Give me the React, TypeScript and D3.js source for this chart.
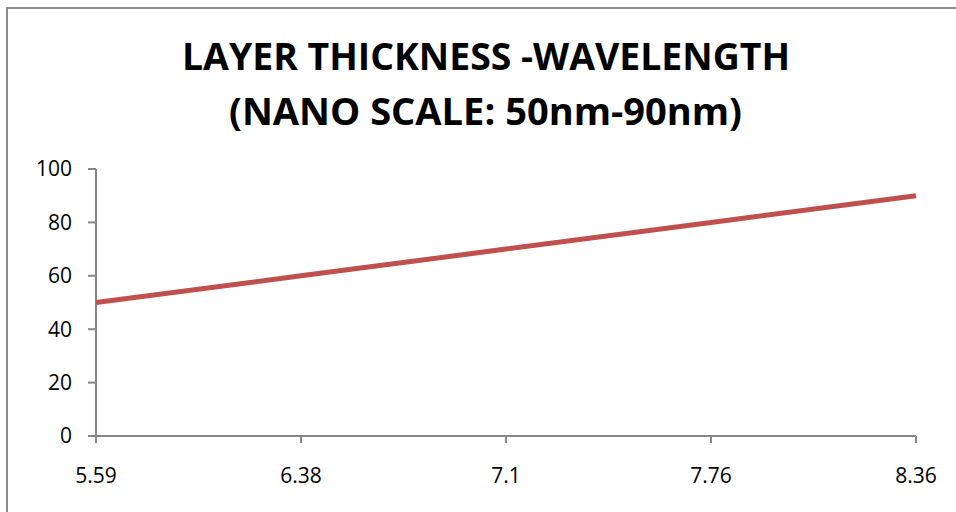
import React from "react";
import * as d3 from "d3";

const categories: string[] = ["5.59", "6.38", "7.1", "7.76", "8.36"];
const values: number[] = [50, 60, 70, 80, 90];
const yTicks: number[] = [0, 20, 40, 60, 80, 100];
const titleLines: string[] = ["LAYER THICKNESS -WAVELENGTH", "(NANO SCALE: 50nm-90nm)"];

export default function App() {
  const W = 956;
  const H = 512;
  const left = 96;
  const right = 916;
  const top = 169;
  const bottom = 436;

  const x = d3.scalePoint<string>().domain(categories).range([left, right]).padding(0);
  const y = d3.scaleLinear().domain([0, 100]).range([bottom, top]);

  const line = d3
    .line<number>()
    .x((_, i) => x(categories[i]) as number)
    .y((d) => y(d));

  const axisColor = "#868686";
  const font = "'Open Sans', 'Liberation Sans', sans-serif";

  return (
    <svg
      width={W}
      height={H}
      style={{ position: "absolute", left: 0, top: 0, background: "#fff" }}
    >
      <rect x={7} y={8} width={W + 10} height={H + 10} fill="#fff" stroke="#8c8c8c" strokeWidth={2} />
      <text
        x={486}
        y={69.5}
        textAnchor="middle"
        fontFamily={font}
        fontWeight="bold"
        fontSize={37.5}
        textLength={608}
        lengthAdjust="spacingAndGlyphs"
        fill="#000"
      >
        {titleLines[0]}
      </text>
      <text
        x={485.5}
        y={124.5}
        textAnchor="middle"
        fontFamily={font}
        fontWeight="bold"
        fontSize={37.5}
        textLength={513}
        lengthAdjust="spacingAndGlyphs"
        fill="#000"
      >
        {titleLines[1]}
      </text>

      {/* y axis */}
      <line x1={left} x2={left} y1={top} y2={bottom} stroke={axisColor} strokeWidth={2} />
      {yTicks.map((t) => (
        <g key={t}>
          <line x1={left - 8} x2={left} y1={y(t)} y2={y(t)} stroke={axisColor} strokeWidth={2} />
          <text
            x={72}
            y={y(t)}
            dy="0.35em"
            textAnchor="end"
            fontFamily={font}
            fontSize={21}
            fill="#000"
          >
            {t}
          </text>
        </g>
      ))}

      {/* x axis */}
      <line x1={left} x2={right} y1={bottom} y2={bottom} stroke={axisColor} strokeWidth={2} />
      {categories.map((c) => (
        <g key={c}>
          <line x1={x(c)} x2={x(c)} y1={bottom} y2={bottom + 7} stroke={axisColor} strokeWidth={2} />
          <text
            x={x(c)}
            y={483}
            textAnchor="middle"
            fontFamily={font}
            fontSize={21}
            fill="#000"
          >
            {c}
          </text>
        </g>
      ))}

      <path d={line(values) || ""} fill="none" stroke="#C0504D" strokeWidth={5} strokeLinecap="butt" />
    </svg>
  );
}
